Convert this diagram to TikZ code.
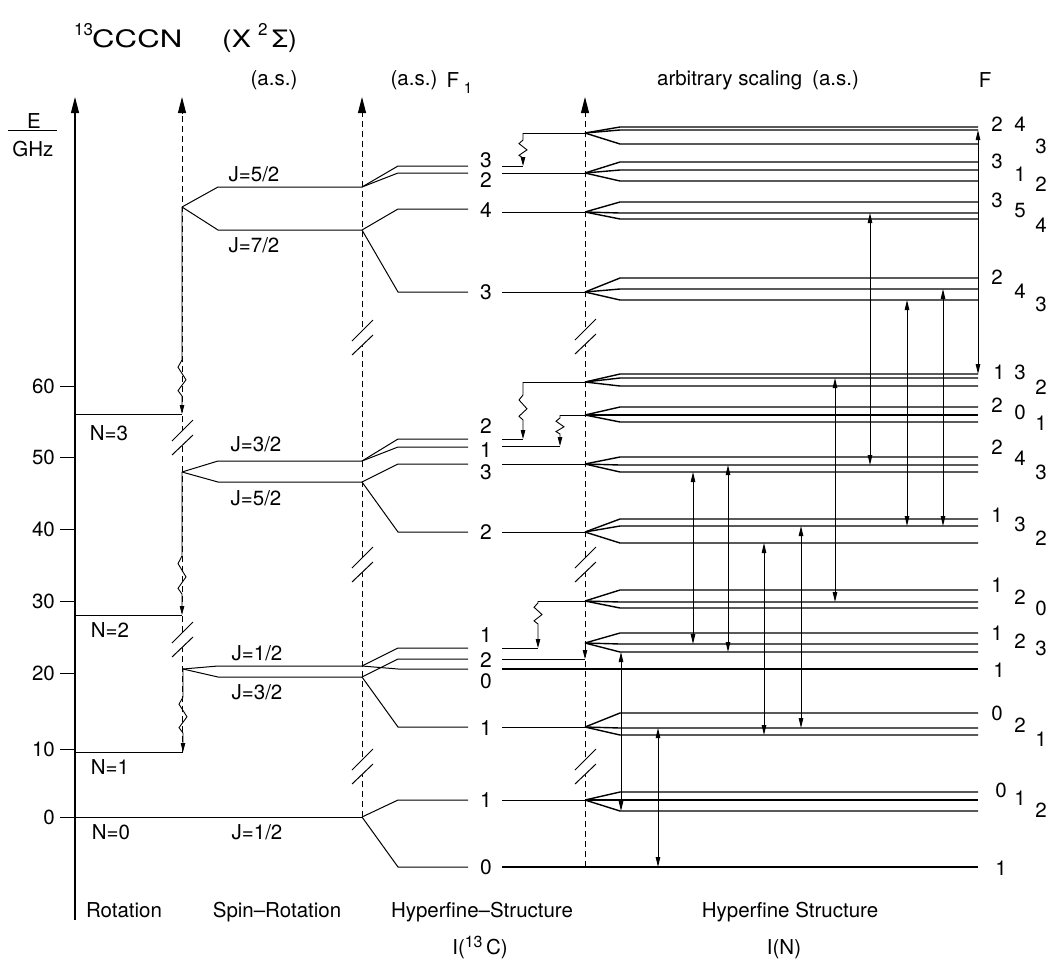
\documentclass[tikz,border=0pt]{standalone}
\usepackage{fontspec}
\setmainfont{TeX Gyre Heros}
\usetikzlibrary{arrows.meta}
\newcommand{\brk}[2]{%
  \fill[white] ({#1-10},{#2+3}) -- ({#1+11},{#2-18}) -- ({#1+11},{#2-3}) -- ({#1-10},{#2+17}) -- cycle;
  \draw[ln] ({#1-10},{#2+3}) -- ({#1+11},{#2-18});
  \draw[ln] ({#1-10},{#2+17}) -- ({#1+11},{#2-3});
}
\newcommand{\zz}[5]{% x, ytop, zigstart, zigend, ybottom
  \pgfmathsetmacro{\zzA}{#3+0.2*(#4-#3)}%
  \pgfmathsetmacro{\zzB}{#3+0.55*(#4-#3)}%
  \pgfmathsetmacro{\zzC}{#3+0.85*(#4-#3)}%
  \draw[zzarr] (#1,#2) -- (#1,#3) -- ({#1-4},\zzA) -- ({#1+4},\zzB) -- ({#1-4},\zzC) -- (#1,#4) -- (#1,#5);
}
\newcommand{\hfg}[5]{% name, split y, three level ys
  \coordinate (#1) at (585,#2);
  \draw[lev] (#1) -- (620,#3) -- (978,#3);
  \draw[lev] (#1) -- (620,#4) -- (978,#4);
  \draw[lev] (#1) -- (620,#5) -- (978,#5);
}
\newcommand{\rl}[4]{\node[rnum] (#1) at (#2,#3) {#4};}
\begin{document}
\begin{tikzpicture}[x=1pt,y=-1pt,
  ln/.style={line width=1pt},
  lev/.style={line width=1.4pt},
  ax/.style={line width=1.1pt},
  dax/.style={line width=0.95pt,dash pattern=on 6pt off 4pt},
  axtip/.style={line width=1pt,-{Triangle[length=16pt,width=8pt]}},
  trans/.style={line width=0.9pt,{Triangle[length=10pt,width=4.5pt]}-{Triangle[length=10pt,width=4.5pt]}},
  zzarr/.style={line width=0.9pt,-{Triangle[length=9pt,width=4.5pt]}},
  txt/.style={inner sep=0pt,font=\fontsize{20.5}{24}\selectfont},
  fnum/.style={inner sep=0pt,font=\fontsize{21}{24}\selectfont},
  rnum/.style={inner sep=0pt,font=\fontsize{20.5}{24}\selectfont},
]
\fill[white] (0,0) rectangle (1049,958);

% ---------- title and headings ----------
\node[anchor=base west,inner sep=0] (t13) at (74,47) {\raisebox{12pt}{\fontsize{17}{17}\selectfont 13}};
\node[anchor=base west,inner sep=0] (tccn) at (92,47) {\scalebox{1.3}[1]{\fontsize{24}{24}\selectfont CCCN}};
\node[anchor=base west,inner sep=0] (tx) at (222,47) {\scalebox{1.2}[1]{\fontsize{24}{24}\selectfont (X}};
\node[anchor=base west,inner sep=0] (t2) at (258,47) {\raisebox{12pt}{\fontsize{17}{17}\selectfont 2}};
\node[anchor=base west,inner sep=0] (tS) at (272,47) {\scalebox{1.1}[1]{\fontsize{24}{24}\selectfont Σ)}};

\node[txt] (as1) at (274,80) {(a.s.)};
\node[txt] (as2) at (414,80) {(a.s.)};
\node[txt,anchor=center] (F1) at (453,80) {F};
\node[inner sep=0,font=\fontsize{15}{15}\selectfont] (F1s) at (468,88) {1};
\node[txt] (arb) at (758,80) {arbitrary scaling\hspace{10pt}(a.s.)};
\node[txt] (Fh) at (985,80) {F};

% E / GHz
\node[txt] (E) at (34,121) {E};
\draw[ln] (8,130) -- (57,130);
\node[txt] (GHz) at (33,149) {GHz};

% ---------- axes ----------
\draw[ax] (75,920) -- (75,112);
\draw[axtip] (75,114) -- (75,97);
\draw[dax] (182,752) -- (182,112);
\draw[axtip] (182,114) -- (182,97);
\draw[dax] (362,817) -- (362,112);
\draw[axtip] (362,114) -- (362,97);
\draw[dax] (585,867) -- (585,112);
\draw[axtip] (585,114) -- (585,97);

% ticks
\foreach \v/\yy in {60/386,50/457,40/529,30/601,20/673,10/749}{
  \draw[ln] (60,\yy) -- (75,\yy);
  \node[txt,anchor=east] (tk\v) at (55,\yy) {\v};
}
\node[txt,anchor=east] (tk0) at (55,817) {0};

% breaks
\brk{182}{438}
\brk{182}{640}
\brk{362}{338}
\brk{362}{565}
\brk{362}{767}
\brk{585}{337}
\brk{585}{565}
\brk{585}{767}

% ---------- rotation levels ----------
\draw[ln] (75,414) -- (182,414);
\draw[ln] (75,615) -- (182,615);
\draw[ln] (75,752) -- (183,752);
\draw[ln] (60,817) -- (362,817);
\node[txt] (N3) at (109,433) {N=3};
\node[txt] (N2) at (110,630) {N=2};
\node[txt] (N1) at (110,767) {N=1};
\node[txt] (N0) at (111,832) {N=0};

% rotation zigzag arrows
\zz{182}{207}{360}{396}{414}
\zz{182}{472}{556}{594}{615}
\zz{183}{669}{697}{733}{752}

% ---------- spin-rotation ----------
\draw[ln] (182,207) -- (218,187) -- (362,187);
\draw[ln] (182,207) -- (218,230) -- (362,230);
\draw[ln] (182,472) -- (218,461) -- (362,461);
\draw[ln] (182,472) -- (218,482) -- (362,482);
\draw[ln] (183,669) -- (218,666) -- (362,666);
\draw[ln] (183,669) -- (218,677) -- (362,677);
\node[txt] (J52a) at (254,174) {J=5/2};
\node[txt] (J72) at (254,245) {J=7/2};
\node[txt] (J32a) at (256,444) {J=3/2};
\node[txt] (J52b) at (256,498) {J=5/2};
\node[txt] (J12a) at (257,653) {J=1/2};
\node[txt] (J32b) at (257,692) {J=3/2};
\node[txt] (J12b) at (257,832) {J=1/2};

% ---------- 13C hyperfine ----------
\draw[ln] (362,187) -- (398,166) -- (468,166);
\draw[ln] (362,187) -- (398,173) -- (468,173);
\draw[ln] (362,230) -- (398,209) -- (468,209);
\draw[ln] (362,230) -- (398,292) -- (468,292);
\draw[ln] (362,461) -- (398,439) -- (468,439);
\draw[ln] (362,461) -- (398,447) -- (468,447);
\draw[ln] (362,482) -- (398,464) -- (468,464);
\draw[ln] (362,482) -- (398,532) -- (468,532);
\draw[ln] (362,666) -- (398,648) -- (468,648);
\draw[ln] (362,666) -- (398,669) -- (468,669);
\draw[ln] (362,677) -- (398,659) -- (468,659);
\draw[ln] (362,677) -- (398,727) -- (468,727);
\draw[ln] (362,817) -- (398,800) -- (468,800);
\draw[ln] (362,817) -- (398,867) -- (468,867);

\node[fnum] (c1) at (486,160) {3};
\node[fnum] (c2) at (486,180) {2};
\node[fnum] (c3) at (486,210) {4};
\node[fnum] (c4) at (486,292) {3};
\node[fnum] (c5) at (486,426) {2};
\node[fnum] (c6) at (486,450) {1};
\node[fnum] (c7) at (486,472) {3};
\node[fnum] (c8) at (486,532) {2};
\node[fnum] (c9) at (486,635) {1};
\node[fnum] (c10) at (486,660) {2};
\node[fnum] (c11) at (486,681) {0};
\node[fnum] (c12) at (486,728) {1};
\node[fnum] (c13) at (486,800) {1};
\node[fnum] (c14) at (486,867) {0};

% right continuations
\draw[ln] (502,166) -- (523,166);
\draw[ln] (502,173) -- (585,173);
\draw[ln] (502,212) -- (585,212);
\draw[ln] (502,292) -- (585,292);
\draw[ln] (502,439) -- (523,439);
\draw[ln] (502,446) -- (560,446);
\draw[ln] (502,464) -- (585,464);
\draw[ln] (502,532) -- (585,532);
\draw[ln] (502,648) -- (538,648);
\draw[ln] (502,659) -- (585,659);
\draw[lev] (502,669) -- (978,669);
\draw[ln] (502,727) -- (585,727);
\draw[ln] (502,800) -- (585,800);
\draw[lev] (502,867) -- (978,867);

% shifted levels with zigzag arrows
\draw[ln] (585,133) -- (523,133);
\zz{523}{133}{140}{158}{166}
\draw[ln] (585,382) -- (523,382);
\zz{523}{382}{395}{420}{439}
\draw[ln] (585,415) -- (560,415);
\zz{560}{415}{418}{434}{446}
\draw[ln] (585,601) -- (538,601);
\zz{538}{601}{603}{624}{648}
\draw[zzarr] (585,643) -- (585,659);

% ---------- N hyperfine groups ----------
\hfg{g1}{133}{127}{130}{144}
\hfg{g2}{173}{162}{170}{181}
\hfg{g3}{212}{202}{213}{219}
\hfg{g4}{292}{278}{289}{300}
\hfg{g5}{382}{374}{378}{386}
\hfg{g6}{415}{407}{415}{422}
\hfg{g7}{464}{457}{465}{472}
\hfg{g8}{532}{519}{526}{543}
\hfg{g9}{601}{590}{602}{608}
\hfg{g10}{643}{633}{644}{652}
\hfg{g11}{727}{713}{728}{735}
\hfg{g12}{800}{792}{800}{811}

% right labels
\rl{r1a}{997}{124}{2}\rl{r1b}{1020}{124}{4}\rl{r1c}{1041}{146}{3}
\rl{r2a}{997}{161}{3}\rl{r2b}{1020}{174}{1}\rl{r2c}{1041}{184}{2}
\rl{r3a}{997}{200}{3}\rl{r3b}{1020}{211}{5}\rl{r3c}{1041}{225}{4}
\rl{r4a}{997}{277}{2}\rl{r4b}{1020}{291}{4}\rl{r4c}{1041}{304}{3}
\rl{r5a}{999}{372}{1}\rl{r5b}{1020}{372}{3}\rl{r5c}{1041}{387}{2}
\rl{r6a}{997}{405}{2}\rl{r6b}{1020}{412}{0}\rl{r6c}{1041}{423}{1}
\rl{r7a}{997}{447}{2}\rl{r7b}{1020}{458}{4}\rl{r7c}{1041}{472}{3}
\rl{r8a}{997}{515}{1}\rl{r8b}{1020}{524}{3}\rl{r8c}{1041}{538}{2}
\rl{r9a}{997}{585}{1}\rl{r9b}{1020}{597}{2}\rl{r9c}{1041}{608}{0}
\rl{rs1}{999}{670}{1}
\rl{r10a}{997}{633}{1}\rl{r10b}{1020}{641}{2}\rl{r10c}{1041}{648}{3}
\rl{r11a}{997}{713}{0}\rl{r11b}{1020}{725}{2}\rl{r11c}{1041}{739}{1}
\rl{r12a}{1001}{790}{0}\rl{r12b}{1020}{798}{1}\rl{r12c}{1041}{810}{2}
\rl{rs2}{1001}{868}{1}

% ---------- transitions ----------
\draw[trans] (870,213) -- (870,465);
\draw[trans] (907,300) -- (907,526);
\draw[trans] (943,289) -- (943,526);
\draw[trans] (978,130) -- (978,374);
\draw[trans] (835,378) -- (835,602);
\draw[trans] (693,472) -- (693,644);
\draw[trans] (728,465) -- (728,652);
\draw[trans] (764,543) -- (764,735);
\draw[trans] (801,526) -- (801,728);
\draw[trans] (621,652) -- (621,811);
\draw[trans] (658,728) -- (658,867);

% ---------- bottom labels ----------
\node[txt,anchor=base] (bRot) at (124,917) {Rotation};
\node[txt,anchor=base] (bSR) at (277,917) {Spin–Rotation};
\node[txt,anchor=base] (bHS1) at (482,917) {Hyperfine–Structure};
\node[txt,anchor=base] (bI1) at (480,954) {I(\raisebox{7pt}{\fontsize{16}{16}\selectfont 13}\,C)};
\node[txt,anchor=base] (bHS2) at (790,917) {Hyperfine Structure};
\node[txt,anchor=base] (bI2) at (784,954) {I(N)};
\end{tikzpicture}
\end{document}
